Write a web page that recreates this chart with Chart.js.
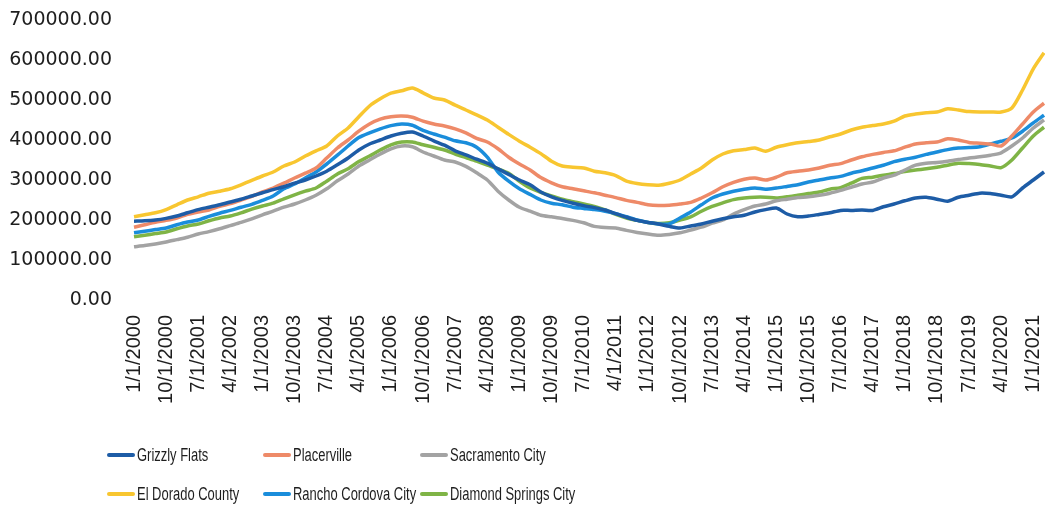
<!DOCTYPE html>
<html>
<head>
<meta charset="utf-8">
<script src="https://cdn.jsdelivr.net/npm/chart.js@4"></script>
<style>
  html, body { margin: 0; padding: 0; background: #fff; }
  #wrap { position: relative; width: 1045px; height: 508px; overflow: hidden; }
  #c { position: absolute; left: 0; top: 0; }
  .lg { position: absolute; height: 24px; display: flex; align-items: center; white-space: nowrap; }
  .lg .mk { width: 28px; height: 4px; border-radius: 2px; flex: none; }
  .lg .tx { font-family: "Liberation Sans", Arial, sans-serif; font-size: 18px; color: #1e1e1e;
            transform: scaleX(0.72); transform-origin: left center; margin-left: 2px; }
</style>
</head>
<body>
<div id="wrap">
  <canvas id="c" width="1045" height="508"></canvas>
  <div id="legend"></div>
</div>
<script>
// Quarterly categories, 1/1/2000 .. 4/1/2021
const categories = [];
for (let y = 2000; y <= 2021; y++) {
  for (const mo of [1, 4, 7, 10]) {
    if (y === 2021 && mo > 4) break;
    categories.push(mo + '/1/' + y);
  }
}
// Only every 9 months gets a tick label
const tickEvery = 3;

const seriesNames = ['Grizzly Flats', 'Placerville', 'Sacramento City',
                     'El Dorado County', 'Rancho Cordova City', 'Diamond Springs City'];
const seriesColors = ['#1d5ca6', '#ee8a68', '#a3a3a3', '#f8c630', '#1a8ddb', '#7fb446'];

const grizzlyFlats = [
  197000,198000,200000,204000,210000,218000,226000,232000,238000,245000,
  252000,260000,268000,276000,283000,292000,300000,310000,322000,338000,
  355000,375000,390000,400000,410000,417000,420000,410000,398000,387000,
  373000,363000,352000,342000,328000,314000,300000,288000,270000,258000,
  249000,242000,236000,231000,225000,216000,207000,199000,194000,190000,
  184000,180000,185000,190000,197000,203000,208000,212000,220000,226000,
  230000,215000,208000,210000,214000,218000,224000,224000,225000,224000,
  233000,240000,248000,255000,257000,252000,247000,257000,262000,267000,
  266000,262000,258000,280000,300000,320000];

const placerville = [
  182000,188000,194000,199000,205000,214000,220000,225000,234000,241000,
  250000,259000,270000,280000,292000,305000,317000,330000,355000,380000,
  400000,422000,440000,452000,458000,460000,457000,447000,440000,435000,
  428000,418000,404000,395000,378000,357000,340000,325000,306000,293000,
  283000,278000,273000,268000,262000,256000,249000,244000,238000,236000,
  237000,240000,244000,255000,268000,283000,294000,302000,305000,300000,
  307000,318000,322000,325000,330000,337000,341000,350000,358000,364000,
  369000,373000,382000,390000,393000,395000,403000,400000,394000,392000,
  390000,385000,410000,440000,470000,492000];

const sacramentoCity = [
  133000,136000,140000,145000,151000,157000,165000,171000,178000,186000,
  194000,203000,213000,222000,232000,240000,250000,262000,278000,298000,
  315000,335000,350000,365000,378000,385000,383000,370000,360000,350000,
  345000,334000,318000,300000,272000,250000,232000,222000,212000,208000,
  204000,199000,193000,184000,181000,180000,174000,169000,165000,162000,
  164000,168000,175000,182000,192000,200000,215000,226000,235000,240000,
  248000,252000,256000,258000,262000,267000,274000,282000,290000,295000,
  305000,312000,325000,337000,342000,344000,347000,351000,355000,358000,
  362000,368000,385000,405000,430000,450000];

const elDoradoCounty = [
  208000,213000,218000,226000,238000,250000,258000,267000,272000,278000,
  288000,299000,310000,320000,335000,345000,360000,373000,385000,410000,
  430000,458000,485000,503000,517000,523000,530000,518000,505000,500000,
  487000,475000,463000,450000,432000,414000,397000,382000,366000,347000,
  335000,332000,330000,322000,318000,311000,297000,291000,288000,287000,
  292000,300000,315000,330000,350000,365000,373000,376000,380000,372000,
  382000,388000,393000,396000,400000,408000,415000,425000,432000,436000,
  440000,447000,460000,465000,468000,470000,478000,475000,471000,470000,
  470000,470000,480000,525000,578000,618000];

const ranchoCordovaCity = [
  168000,172000,176000,180000,188000,195000,200000,209000,217000,224000,
  232000,239000,249000,260000,278000,290000,305000,320000,340000,362000,
  385000,406000,418000,428000,436000,440000,437000,424000,415000,407000,
  398000,393000,382000,357000,320000,297000,278000,264000,250000,242000,
  238000,232000,229000,226000,222000,216000,208000,200000,194000,190000,
  190000,205000,220000,238000,255000,265000,272000,277000,280000,277000,
  280000,284000,288000,295000,300000,305000,309000,317000,323000,330000,
  337000,346000,352000,357000,364000,370000,376000,380000,381000,383000,
  390000,397000,405000,422000,443000,462000];

const diamondSpringsCity = [
  158000,162000,166000,170000,178000,185000,190000,198000,205000,210000,
  218000,227000,235000,242000,253000,263000,272000,280000,297000,315000,
  328000,346000,360000,375000,388000,395000,395000,388000,382000,375000,
  365000,356000,347000,337000,328000,317000,297000,280000,269000,260000,
  252000,246000,240000,234000,225000,214000,205000,199000,194000,191000,
  193000,200000,208000,222000,234000,243000,251000,255000,257000,257000,
  255000,258000,262000,266000,270000,277000,281000,292000,304000,307000,
  312000,316000,321000,325000,328000,332000,337000,342000,341000,339000,
  335000,331000,350000,380000,410000,432000];

const seriesValues = [grizzlyFlats, placerville, sacramentoCity,
                      elDoradoCounty, ranchoCordovaCity, diamondSpringsCity];

const yMin = 0, yMax = 700000, yStep = 100000;

const datasets = seriesNames.map((name, i) => ({
  label: name,
  data: seriesValues[i],
  borderColor: seriesColors[i],
  backgroundColor: seriesColors[i],
  borderWidth: 3.5,
  pointRadius: 0,
  tension: 0.25,
  fill: false
}));

const chart = new Chart(document.getElementById('c'), {
  type: 'line',
  data: { labels: categories, datasets },
  options: {
    responsive: false,
    devicePixelRatio: 1,
    animation: false,
    layout: { padding: { left: 0, right: 1, top: 20, bottom: 78 } },
    plugins: { legend: { display: false }, tooltip: { enabled: false } },
    scales: {
      x: {
        type: 'category',
        offset: false,
        grid: { display: false, drawTicks: false },
        border: { display: false },
        ticks: {
          autoSkip: false,
          minRotation: 90,
          maxRotation: 90,
          padding: 15,
          color: '#1e1e1e',
          font: { family: 'Liberation Sans', size: 20 },
          callback: function (val, idx) {
            return idx % tickEvery === 0 ? this.getLabelForValue(val) : '';
          }
        },
        afterFit: (s) => { s.height = 130; s.paddingLeft = 0; s.paddingRight = 0; }
      },
      y: {
        min: yMin, max: yMax,
        grid: { display: false, drawTicks: false },
        border: { display: false },
        ticks: {
          stepSize: yStep,
          padding: 22,
          color: '#1e1e1e',
          font: { family: 'DejaVu Sans', size: 19 },
          callback: (v) => Number(v).toFixed(2)
        },
        afterFit: (s) => { s.width = 134; s.paddingTop = 0; s.paddingBottom = 0; }
      }
    }
  }
});

// HTML legend built from the datasets (3 columns x 2 rows)
const legendCols = [107, 263, 420];
const legendRows = [443, 482];
const legendEl = document.getElementById('legend');
chart.data.datasets.forEach((ds, i) => {
  const item = document.createElement('div');
  item.className = 'lg';
  item.style.left = legendCols[i % 3] + 'px';
  item.style.top = legendRows[Math.floor(i / 3)] + 'px';
  const mk = document.createElement('div');
  mk.className = 'mk';
  mk.style.background = ds.borderColor;
  const tx = document.createElement('span');
  tx.className = 'tx';
  tx.textContent = ds.label;
  item.appendChild(mk);
  item.appendChild(tx);
  legendEl.appendChild(item);
});
</script>
</body>
</html>
